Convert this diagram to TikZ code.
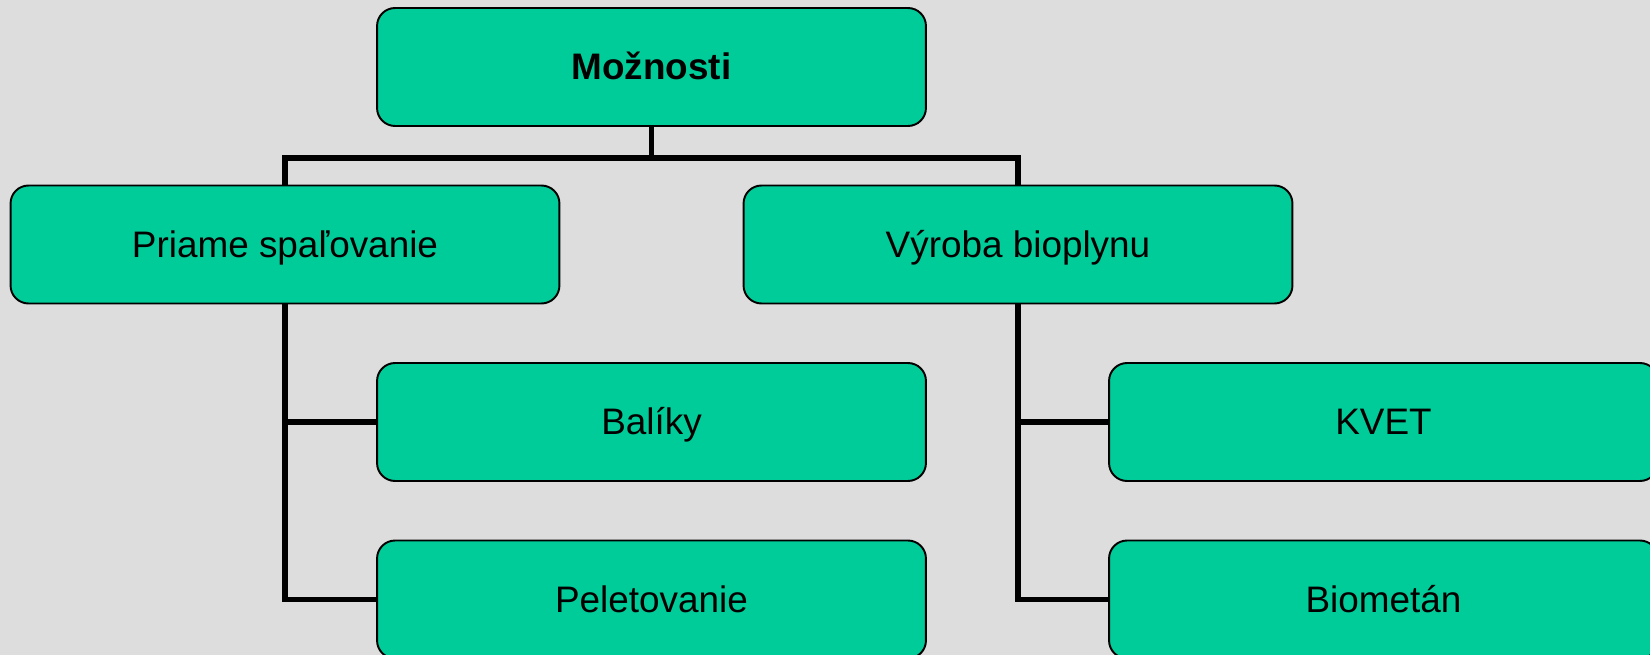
\documentclass[tikz,border=0pt]{standalone}
\usepackage{fontspec}
\setmainfont{Liberation Sans}
\usepackage{tikz}
\usetikzlibrary{positioning}

\definecolor{boxgreen}{HTML}{00CC99}
\definecolor{bggray}{HTML}{DDDDDD}

\tikzset{
	box/.style={draw=black,line width=1.1pt,fill=boxgreen,rounded corners=0.36cm,
		minimum width=10.98cm,minimum height=2.36cm,inner sep=0pt,
		text height=19pt,text depth=4.5pt,
		font=\fontsize{21}{25}\selectfont},
	conn/.style={line width=3.4pt,black}
}

\begin{document}
\begin{tikzpicture}[x=0.02cm,y=0.02cm]
	\fill[bggray] (0,0) rectangle (1650,-655);
	\useasboundingbox (0,0) rectangle (1650,-655);
	
	\node[box,font=\fontsize{21}{25}\selectfont\bfseries] (moz) at (651.5,-67) {Možnosti};
	\node[box] (spal) at (285,-244.5) {Priame spaľovanie};
	\node[box] (bio) at (1018,-244.5) {Výroba bioplynu};
	\node[box] (bal) at (651.5,-422) {Balíky};
	\node[box] (pel) at (651.5,-599.5) {Peletovanie};
	\node[box] (kvet) at (1383.5,-422) {KVET};
	\node[box] (met) at (1383.5,-599.5) {Biometán};
	
	\coordinate (split) at (651.5,-158);
	\draw[conn] (moz.south) -- (split);
	\draw[conn] (spal.north) |- (split) -| (bio.north);
	
	\draw[conn] (spal.south) |- (bal.west);
	\draw[conn] (spal.south) |- (pel.west);
	\draw[conn] (bio.south) |- (kvet.west);
	\draw[conn] (bio.south) |- (met.west);
	
\end{tikzpicture}
\end{document}
